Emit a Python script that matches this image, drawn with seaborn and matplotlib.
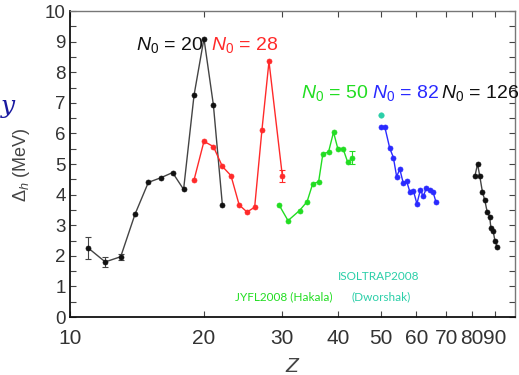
import numpy as np
import pandas as pd
import matplotlib
matplotlib.use("Agg")
import matplotlib.pyplot as plt
import seaborn as sns

# ---- data ----
z_n20 = [11, 12, 13, 14, 15, 16, 17, 18, 19, 20, 21, 22]
d_n20 = [2.25, 1.80, 1.97, 3.36, 4.40, 4.55, 4.72, 4.17, 7.25, 9.10, 6.93, 3.66]
e_n20 = [0.37, 0.15, 0.10, 0, 0, 0, 0, 0, 0, 0, 0, 0]

z_n28 = [19, 20, 21, 22, 23, 24, 25, 26, 27, 28, 30]
d_n28 = [4.48, 5.74, 5.57, 4.92, 4.62, 3.66, 3.43, 3.59, 6.12, 8.35, 4.62]
e_n28 = [0, 0, 0, 0, 0, 0, 0, 0, 0, 0, 0.20]

z_n50 = [29.5, 30.9, 32.8, 34.1, 35.1, 36.2, 37.0, 38.1, 39.1, 40.0, 41.1, 42.1, 43.1]
d_n50 = [3.66, 3.15, 3.48, 3.77, 4.35, 4.42, 5.33, 5.39, 6.04, 5.49, 5.49, 5.05, 5.21]
e_n50 = [0, 0, 0, 0, 0, 0, 0, 0, 0, 0, 0, 0, 0.20]

z_n82 = [50.1, 51.0, 52.3, 53.3, 54.2, 55.1, 56.1, 57.1, 58.1, 59.1, 60.2, 61.3, 62.2, 63.2, 64.3, 65.4, 66.4]
d_n82 = [6.20, 6.20, 5.52, 5.21, 4.59, 4.83, 4.37, 4.43, 4.07, 4.13, 3.70, 4.16, 3.94, 4.21, 4.16, 4.10, 3.77]

z_n126 = [81.3, 82.4, 83.3, 84.5, 85.5, 86.6, 87.7, 88.3, 89.3, 90.1, 91.3]
d_n126 = [4.62, 5.00, 4.62, 4.08, 3.83, 3.43, 3.28, 2.90, 2.82, 2.50, 2.28]

z_isol = [50.0]
d_isol = [6.59]

xticks = [10, 20, 30, 40, 50, 60, 70, 80, 90]
yticks = list(range(0, 11))

series_labels = [r"$N_{\mathit{0}}$ = 20", r"$N_{\mathit{0}}$ = 28", r"$N_{\mathit{0}}$ = 50",
                 r"$N_{\mathit{0}}$ = 82", r"$N_{\mathit{0}}$ = 126"]

# ---- styling ----
sns.set_theme(style="white")
plt.rcParams["font.family"] = ["Liberation Sans", "DejaVu Sans"]
plt.rcParams["mathtext.fontset"] = "custom"
plt.rcParams["mathtext.rm"] = "Liberation Sans"
plt.rcParams["mathtext.it"] = "Liberation Sans:italic"

BLACK = "#111111"
RED = "#ff2a2a"
GREEN = "#22dd22"
BLUE = "#2a2aff"
TEAL = "#2bcfa8"

fig = plt.figure(figsize=(5.19, 3.75), dpi=100)
ax = fig.add_axes([70 / 519, 1 - 317 / 375, 445 / 519, 306 / 375])

def draw(z, d, color, linecolor, e=None):
    df = pd.DataFrame({"Z": z, "D": d})
    sns.lineplot(data=df, x="Z", y="D", ax=ax, color=linecolor, lw=1.0,
                 estimator=None, sort=False, legend=False)
    sns.scatterplot(data=df, x="Z", y="D", ax=ax, color=color, s=13,
                    edgecolor=color, linewidth=0.5, legend=False, zorder=3)
    if e is not None:
        ee = np.array(e)
        m = ee > 0
        ax.errorbar(np.array(z)[m], np.array(d)[m], yerr=ee[m], fmt="none",
                    ecolor=linecolor, elinewidth=0.8, capsize=2, capthick=0.8)

draw(z_n20, d_n20, BLACK, "#444444", e_n20)
draw(z_n28, d_n28, RED, RED, e_n28)
draw(z_n50, d_n50, GREEN, GREEN, e_n50)
draw(z_n82, d_n82, BLUE, BLUE)
draw(z_n126, d_n126, BLACK, "#444444")
sns.scatterplot(x=z_isol, y=d_isol, ax=ax, color=TEAL, s=16, edgecolor=TEAL,
                legend=False, zorder=3)

ax.set_xscale("log")
ax.set_xlim(10, 100)
ax.set_ylim(0, 10)
ax.set_xticks(xticks)
ax.set_xticklabels([str(t) for t in xticks])
ax.xaxis.set_minor_locator(matplotlib.ticker.NullLocator())
ax.set_yticks(yticks)
ax.set_yticks(np.arange(0.5, 10, 1.0), minor=True)
ax.tick_params(axis="x", which="major", direction="in", length=4, width=0.8,
               top=True, bottom=True, labelsize=15, pad=9, colors="#444444",
               labelcolor="#333333")
ax.tick_params(axis="y", which="both", direction="in", length=4, width=0.8,
               left=True, right=True, labelsize=13.5, pad=3, colors="#444444",
               labelcolor="#333333")
ax.set_xlabel("")
ax.set_ylabel("")
for s in ["left", "bottom"]:
    ax.spines[s].set_color("#111111")
    ax.spines[s].set_linewidth(1.3)
for s in ["top", "right"]:
    ax.spines[s].set_color("#777777")
    ax.spines[s].set_linewidth(1.0)

# series labels
fs = 14
ax.text(14.1, 8.74, series_labels[0], color=BLACK, fontsize=fs, ha="left", va="baseline")
ax.text(20.7, 8.74, series_labels[1], color=RED, fontsize=fs, ha="left", va="baseline")
ax.text(33.0, 7.16, series_labels[2], color=GREEN, fontsize=fs, ha="left", va="baseline")
ax.text(47.8, 7.16, series_labels[3], color=BLUE, fontsize=fs, ha="left", va="baseline")
ax.text(68.3, 7.16, series_labels[4], color=BLACK, fontsize=fs, ha="left", va="baseline",
        clip_on=False)

# source notes
note_font = ["Lato", "DejaVu Sans"]
ax.text(30.3, 0.66, "JYFL2008 (Hakala)", color=GREEN, fontsize=8.5, ha="center",
        va="center", family=note_font)
ax.text(49.5, 1.32, "ISOLTRAP2008", color=TEAL, fontsize=8.5, ha="center",
        va="center", family=note_font)
ax.text(49.9, 0.66, "(Dworshak)", color=TEAL, fontsize=8.5, ha="center",
        va="center", family=note_font)

# axis titles
fig.text(22 / 519, 1 - 165 / 375, r"$\mathit{\Delta}_h$ (MeV)", rotation=90,
         color="#444444", fontsize=13, ha="center", va="center")
fig.text(293 / 519, 1 - 366 / 375, "$Z$", color="#444444", fontsize=15,
         ha="center", va="center")

# slide glyph at left edge
fig.text(1 / 519, 1 - 106 / 375, "y", color="#1a1aa0", fontsize=18,
         family=["DejaVu Serif"], style="italic", ha="left", va="center")

fig.savefig("out.png", dpi=100)
